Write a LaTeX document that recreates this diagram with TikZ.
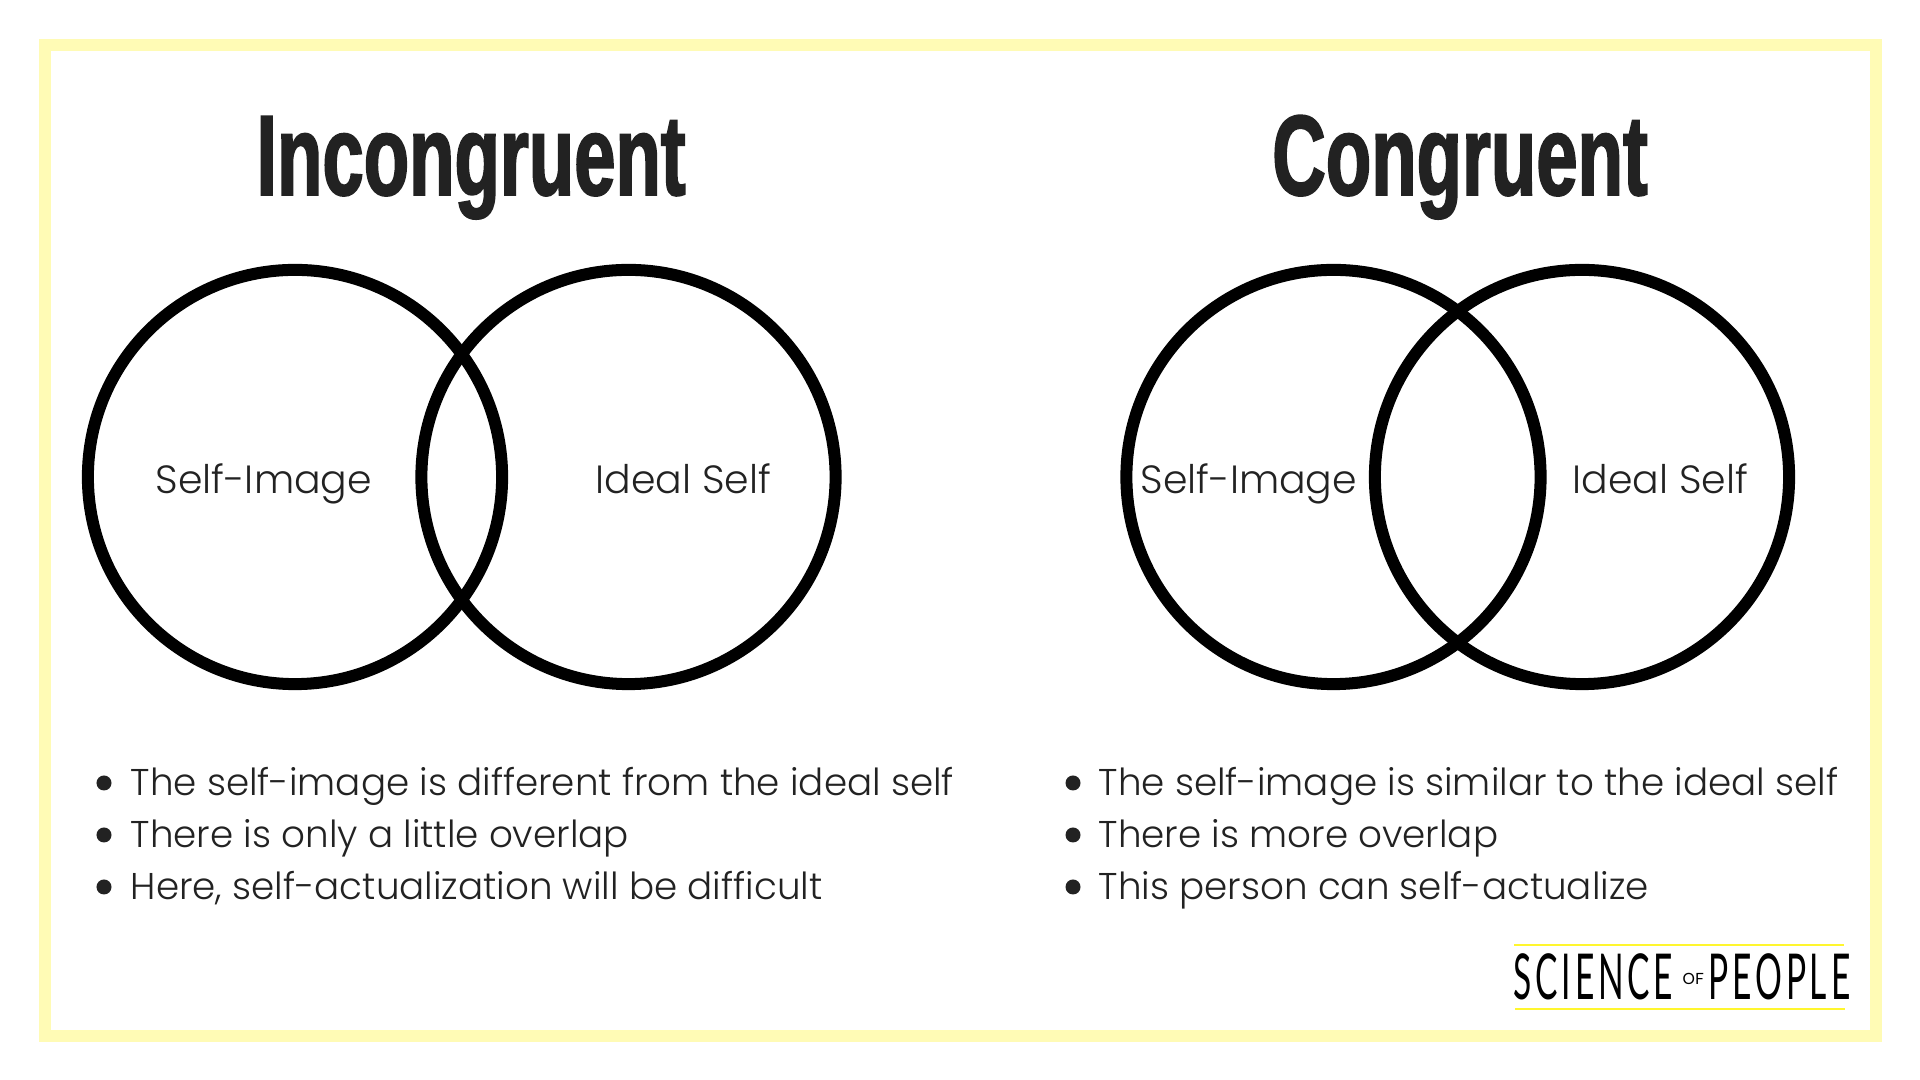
\documentclass[tikz,border=0pt]{standalone}
\usepackage{fontspec}
\usepackage{xcolor}
\usetikzlibrary{positioning}
\setmainfont{Poppins}[UprightFont=* Light]
\newfontfamily\titlefont[FakeStretch=0.65,FakeBold=1.5]{Liberation Sans Bold}
\newfontfamily\logofont[FakeStretch=0.53,LetterSpace=6]{Lato}
\newfontfamily\ofont{Lato}
\definecolor{framey}{HTML}{FFFBB5}
\definecolor{inkgray}{HTML}{222222}
\definecolor{logoy}{HTML}{FFF62E}

\begin{document}
\begin{tikzpicture}[x=0.01cm,y=-0.01cm,
	ring/.style={circle,draw=black,line width=1.2mm,minimum size=4.14cm,inner sep=0pt},
	title/.style={inkgray,anchor=base,font=\titlefont\fontsize{32.5}{33}\selectfont},
	venn/.style={inkgray,anchor=base west,font=\fontsize{11.2}{12}\selectfont},
	item/.style={inkgray,anchor=base west,font=\fontsize{10.6}{12}\selectfont},
	dot/.style={circle,fill=inkgray,inner sep=0pt,minimum size=0.15cm},
	logotext/.style={black,anchor=base west,inner sep=0pt,font=\logofont\fontsize{18}{18}\selectfont}]

	\useasboundingbox (0,0) rectangle (1920,1080);

	% The frame
	\draw[framey,line width=1.2mm] (45,45) rectangle (1876,1036);

	% The titles
	\node [title] at (471,195) (incong) {Incongruent};
	\node [title] at (1460,195) (cong) {Congruent};

	% The circles
	\node [ring] at (295,477) (selfA) {};
	\node [ring] at (628.5,477) (idealA) {};
	\node [ring] at (1333.5,477) (selfB) {};
	\node [ring] at (1582,477) (idealB) {};

	% Circle labels
	\node [venn,inner sep=0pt] at (155,494) (selfAtext) {Self-Image};
	\node [venn,inner sep=0pt] at (595,494) (idealAtext) {Ideal Self};
	\node [venn,inner sep=0pt] at (1140,494) (selfBtext) {Self-Image};
	\node [venn,inner sep=0pt] at (1572,494) (idealBtext) {Ideal Self};

	% Left list
	\node [dot] at (104,783) (a1) {};
	\node [dot] at (104,835) (a2) {};
	\node [dot] at (104,887) (a3) {};
	\node [item,inner sep=0pt] at (130,796) (a1text) {The self-image is different from the ideal self};
	\node [item,inner sep=0pt] at (130,848) (a2text) {There is only a little overlap};
	\node [item,inner sep=0pt] at (130,900) (a3text) {Here, self-actualization will be difficult};

	% Right list
	\node [dot] at (1073,783) (b1) {};
	\node [dot] at (1073,835) (b2) {};
	\node [dot] at (1073,887) (b3) {};
	\node [item,inner sep=0pt] at (1098,796) (b1text) {The self-image is similar to the ideal self};
	\node [item,inner sep=0pt] at (1098,848) (b2text) {There is more overlap};
	\node [item,inner sep=0pt] at (1098,900) (b3text) {This person can self-actualize};

	% The logo
	\coordinate (ruleAl) at (1514,945);
	\coordinate (ruleAr) at (1844,945);
	\coordinate (ruleBl) at (1515,1009);
	\coordinate (ruleBr) at (1845,1009);
	\draw[logoy,line width=0.15mm] (ruleAl) -- (ruleAr);
	\draw[logoy,line width=0.2mm] (ruleBl) -- (ruleBr);
	\node [logotext] at (1513,1000) (logoA) {SCIENCE};
	\node [logotext,font=\ofont\fontsize{4.4}{5}\selectfont] at (1682,985) (logoB) {OF};
	\node [logotext] at (1708,1000) (logoC) {PEOPLE};
\end{tikzpicture}
\end{document}
